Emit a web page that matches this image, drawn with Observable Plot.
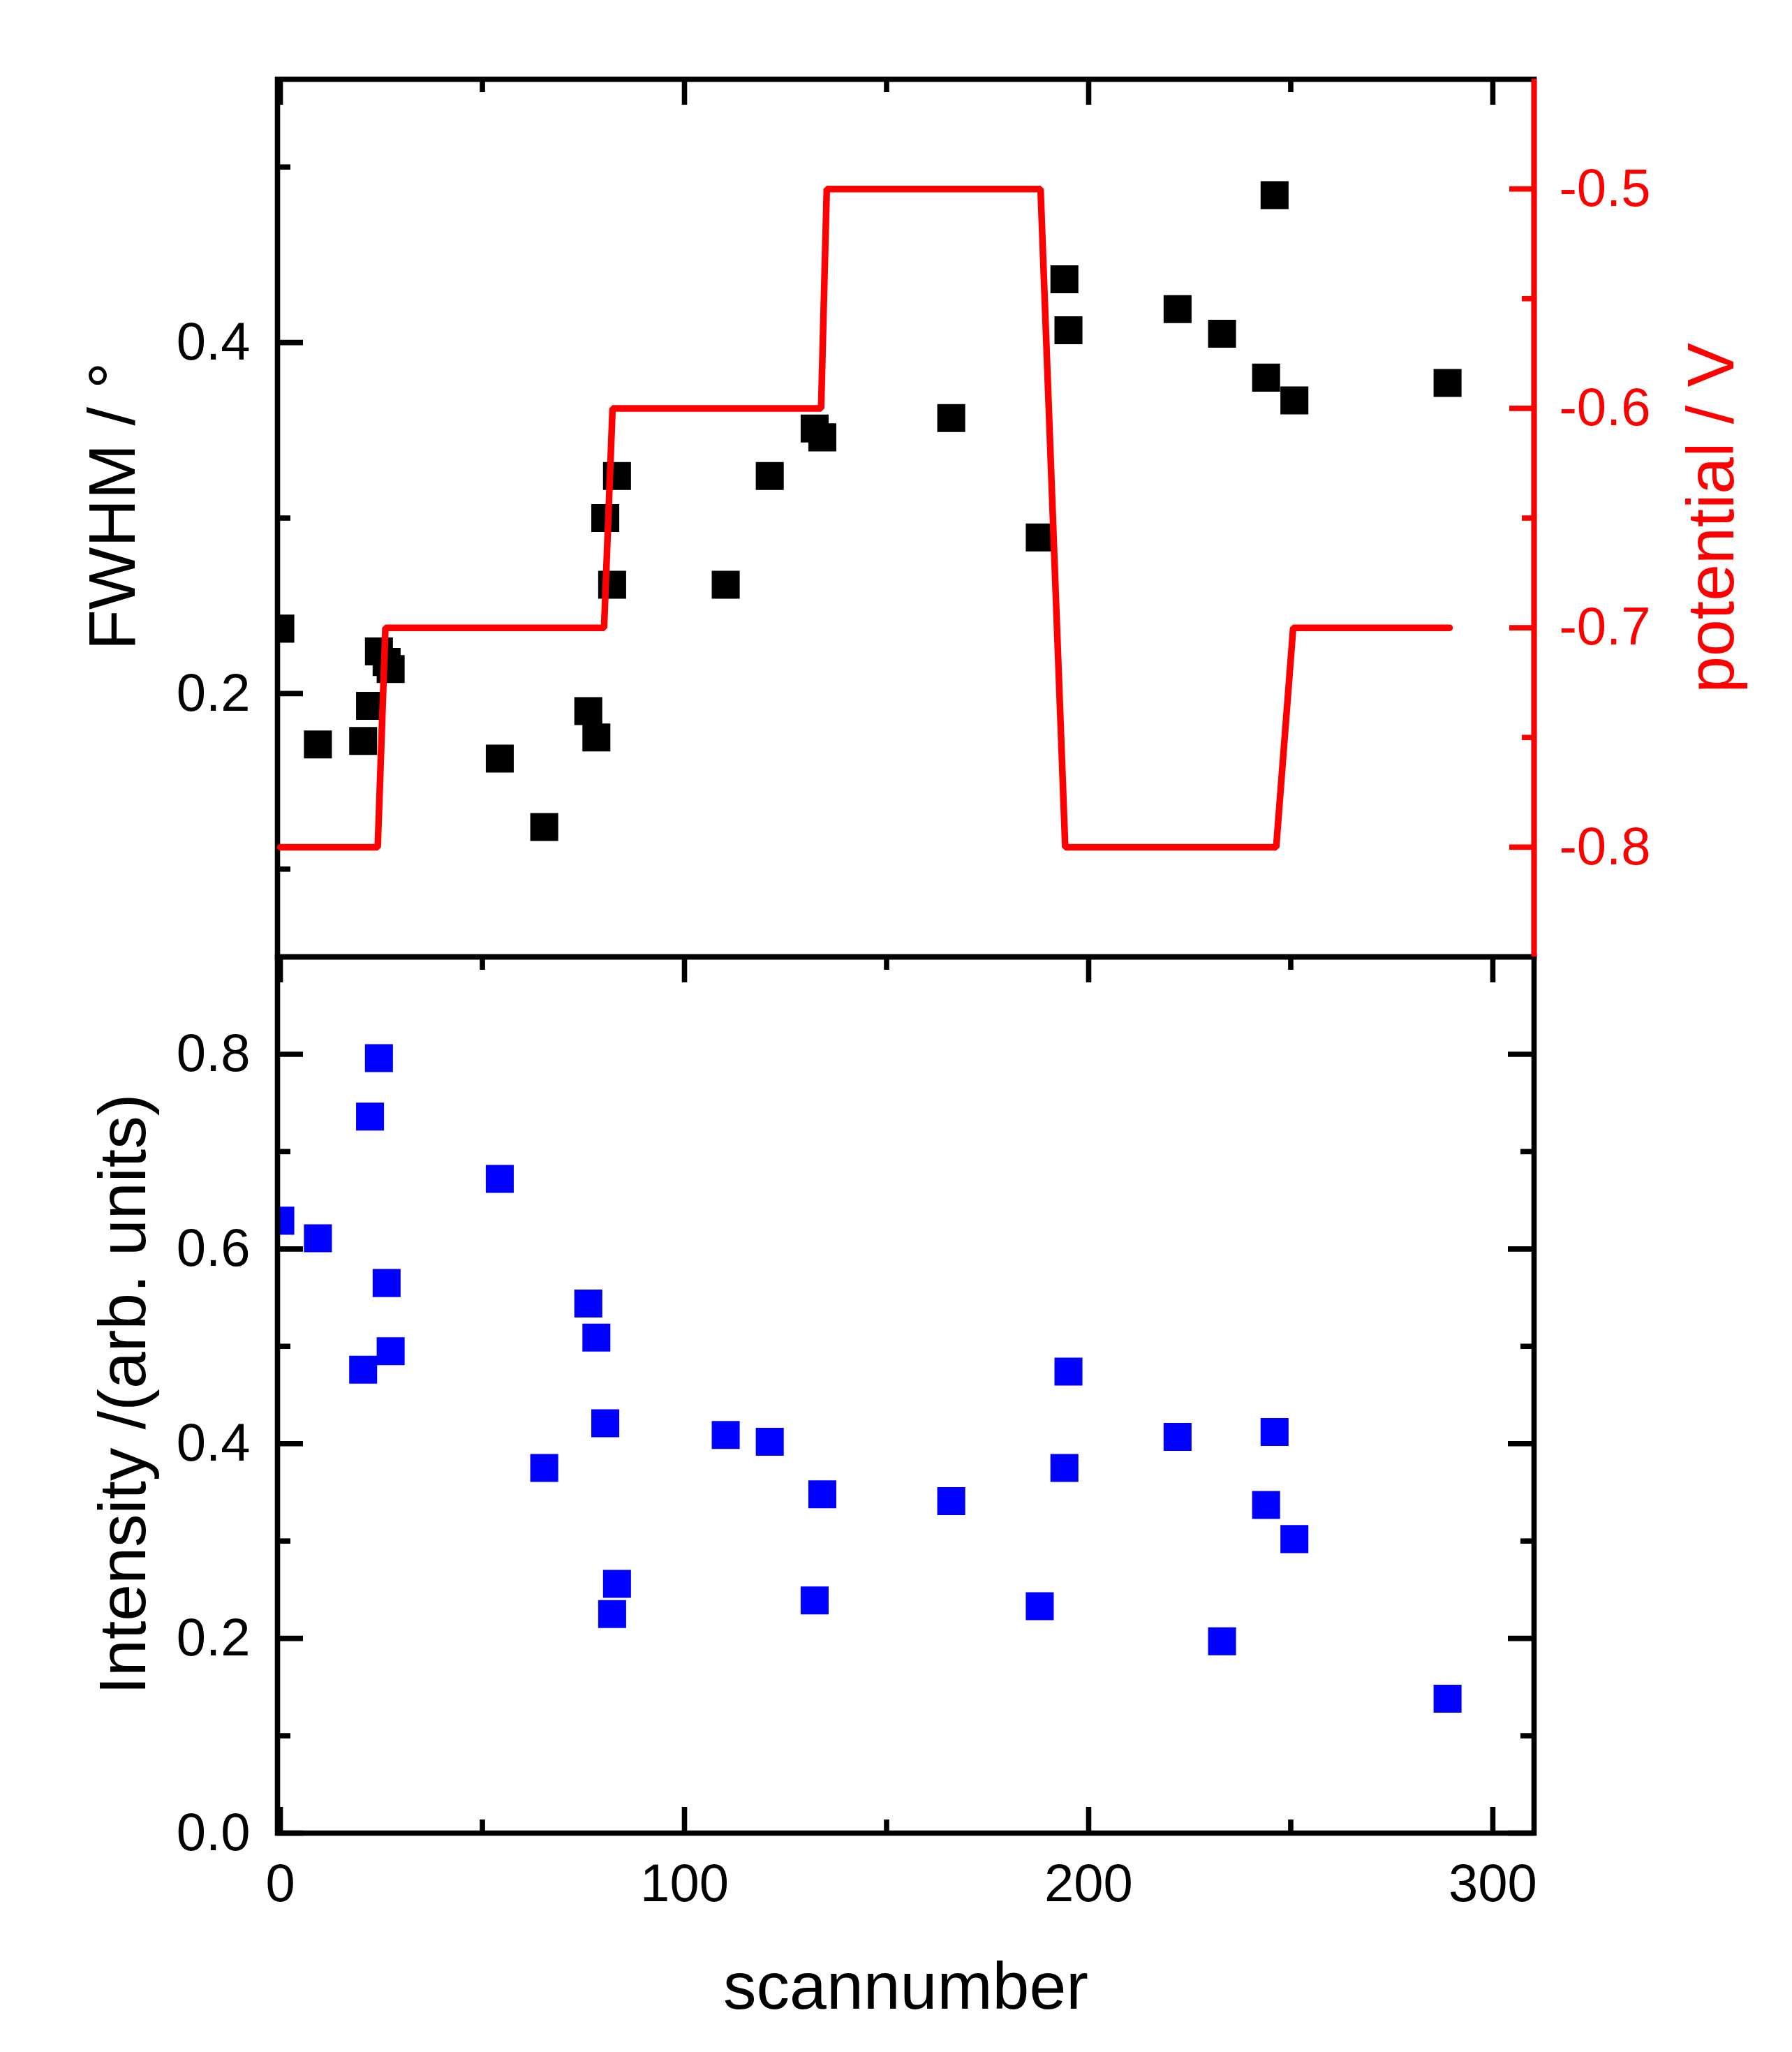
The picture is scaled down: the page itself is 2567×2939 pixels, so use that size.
<!DOCTYPE html>
<html><head><meta charset="utf-8">
<script src="https://cdn.jsdelivr.net/npm/d3@7"></script>
<script src="https://cdn.jsdelivr.net/npm/@observablehq/plot@0.6"></script>
<style>
html,body{margin:0;padding:0;background:#fff;overflow:hidden;}
#chart{position:relative;width:2567px;height:2939px;}
#chart svg{position:absolute;left:0;overflow:visible !important;background:transparent !important;max-width:none !important;}
</style></head><body><div id="chart"></div>
<script>
// ---- data ----
const scan = [0, 9.3, 20.5, 22.2, 24.4, 26.3, 27.3, 54.3, 65.3, 76.2, 78.2, 80.4, 82.1, 83.3, 110.2, 121.1, 132.2, 134.1, 166.0, 187.9, 194.0, 195.0, 222.0, 233.0, 243.9, 246.0, 250.9, 288.8];
const fwhm = [0.237, 0.171, 0.173, 0.193, 0.224, 0.218, 0.214, 0.163, 0.124, 0.190, 0.175, 0.300, 0.262, 0.324, 0.262, 0.324, 0.351, 0.346, 0.357, 0.289, 0.436, 0.407, 0.419, 0.405, 0.380, 0.484, 0.367, 0.377];
const intensity = [0.629, 0.611, 0.476, 0.736, 0.796, 0.565, 0.495, 0.672, 0.375, 0.544, 0.509, 0.421, 0.225, 0.256, 0.409, 0.402, 0.239, 0.348, 0.341, 0.233, 0.375, 0.474, 0.407, 0.197, 0.337, 0.412, 0.302, 0.138];
const potScan = [0, 24.1, 26.0, 80.1, 82.2, 133.8, 135.2, 188.1, 194.2, 246.4, 250.6, 289.3];
const potential = [-0.8, -0.8, -0.7, -0.7, -0.6, -0.6, -0.5, -0.5, -0.8, -0.8, -0.7, -0.7];

const xMajor = [0, 100, 200, 300];
const xMinor = [50, 150, 250];
const fwhmMajor = [0.2, 0.4];
const fwhmMinor = [0.1, 0.3, 0.5];
const potMajor = [-0.5, -0.6, -0.7, -0.8];
const potMinor = [-0.55, -0.65, -0.75];
const intMajor = [0.0, 0.2, 0.4, 0.6, 0.8];
const intMinor = [0.1, 0.3, 0.5, 0.7];

const xDomain = [-0.7, 310.2];
const fwhmDomain = [0.05, 0.55];
const potDomain = [-0.85, -0.45];
const intDomain = [0, 0.9];

// ---- layout ----
const W = 2567, ML = 397, MR = 370;
const TOP_H = 1370, TOP_MT = 113;
const BOT_H = 1569, BOT_MB = 314;
const TOP_FH = TOP_H - TOP_MT;
const BOT_FH = BOT_H - BOT_MB;
const FW = W - ML - MR;
const LW = 7.6, MAJ = 37, MIN = 19;
const FONT = "'Liberation Sans', Arial, Helvetica, sans-serif";
const TICKFS = 76, TITLEFS = 95;

const topRows = scan.map((s, i) => ({scan: s, fwhm: fwhm[i]}));
const botRows = scan.map((s, i) => ({scan: s, intensity: intensity[i]}));
const potRows = potScan.map((s, i) => ({scan: s, potential: potential[i]}));

const baseStyle = {fontFamily: FONT, background: "transparent", overflow: "visible"};

const topPlot = Plot.plot({
  width: W, height: TOP_H,
  marginTop: TOP_MT, marginBottom: 0, marginLeft: ML, marginRight: MR,
  style: baseStyle,
  x: {domain: xDomain, axis: null},
  y: {domain: fwhmDomain},
  marks: [
    Plot.dot(topRows, {x: "scan", y: "fwhm", symbol: "square", r: 22.6, fill: "#000", stroke: "none", clip: true}),
    Plot.frame({stroke: "#000", strokeWidth: LW}),
    Plot.tickX(xMajor, {x: d => d, insetBottom: TOP_FH - MAJ, stroke: "#000", strokeWidth: LW}),
    Plot.tickX(xMinor, {x: d => d, insetBottom: TOP_FH - MIN, stroke: "#000", strokeWidth: LW}),
    Plot.tickY(fwhmMajor, {y: d => d, insetRight: FW - MAJ, stroke: "#000", strokeWidth: LW}),
    Plot.tickY(fwhmMinor, {y: d => d, insetRight: FW - MIN, stroke: "#000", strokeWidth: LW}),
    Plot.axisY({anchor: "left", ticks: fwhmMajor, tickSize: 0, tickPadding: 39, fontSize: TICKFS, tickFormat: d => d.toFixed(1), label: null, fill: "#000"}),
    Plot.text(["FWHM / °"], {frameAnchor: "left", dx: 162 - ML, dy: -17, rotate: -90, fontSize: TITLEFS, textAnchor: "middle", lineAnchor: "middle", fill: "#000"})
  ]
});
topPlot.style.top = "0px";

const potPlot = Plot.plot({
  width: W, height: TOP_H,
  marginTop: TOP_MT, marginBottom: 0, marginLeft: ML, marginRight: MR,
  style: baseStyle,
  x: {domain: xDomain, axis: null},
  y: {domain: potDomain},
  marks: [
    Plot.line(potRows, {x: "scan", y: "potential", stroke: "#ff0000", strokeWidth: 9.5, strokeLinejoin: "miter"}),
    Plot.ruleX([xDomain[1]], {stroke: "#ff0000", strokeWidth: LW}),
    Plot.tickY(potMajor, {y: d => d, insetLeft: FW - 35, stroke: "#ff0000", strokeWidth: LW}),
    Plot.tickY(potMinor, {y: d => d, insetLeft: FW - 17, stroke: "#ff0000", strokeWidth: LW}),
    Plot.axisY({anchor: "right", ticks: potMajor, tickSize: 0, tickPadding: 36, fontSize: TICKFS, tickFormat: d => d.toFixed(1), label: null, fill: "#ff0000"}),
    Plot.text(["potential / V"], {frameAnchor: "right", dx: 2452 - (W - MR), dy: 0, rotate: -90, fontSize: TITLEFS, textAnchor: "middle", lineAnchor: "middle", fill: "#ff0000"})
  ]
});
potPlot.style.top = "0px";

const botPlot = Plot.plot({
  width: W, height: BOT_H,
  marginTop: 0, marginBottom: BOT_MB, marginLeft: ML, marginRight: MR,
  style: baseStyle,
  x: {domain: xDomain},
  y: {domain: intDomain},
  marks: [
    Plot.dot(botRows, {x: "scan", y: "intensity", symbol: "square", r: 22.6, fill: "#0000ff", stroke: "none", clip: true}),
    Plot.frame({stroke: "#000", strokeWidth: LW}),
    Plot.tickX(xMajor, {x: d => d, insetBottom: BOT_FH - MAJ, stroke: "#000", strokeWidth: LW}),
    Plot.tickX(xMinor, {x: d => d, insetBottom: BOT_FH - MIN, stroke: "#000", strokeWidth: LW}),
    Plot.tickX(xMajor, {x: d => d, insetTop: BOT_FH - MAJ, stroke: "#000", strokeWidth: LW}),
    Plot.tickX(xMinor, {x: d => d, insetTop: BOT_FH - MIN, stroke: "#000", strokeWidth: LW}),
    Plot.tickY(intMajor, {y: d => d, insetRight: FW - MAJ, stroke: "#000", strokeWidth: LW}),
    Plot.tickY(intMinor, {y: d => d, insetRight: FW - MIN, stroke: "#000", strokeWidth: LW}),
    Plot.tickY(intMajor, {y: d => d, insetLeft: FW - MAJ, stroke: "#000", strokeWidth: LW}),
    Plot.tickY(intMinor, {y: d => d, insetLeft: FW - MIN, stroke: "#000", strokeWidth: LW}),
    Plot.axisY({anchor: "left", ticks: intMajor, tickSize: 0, tickPadding: 39, fontSize: TICKFS, tickFormat: d => d.toFixed(1), label: null, fill: "#000"}),
    Plot.axisX({anchor: "bottom", ticks: xMajor, tickSize: 0, tickPadding: 44, fontSize: TICKFS, tickFormat: d => String(d), label: null, fill: "#000"}),
    Plot.text(["Intensity /(arb. units)"], {frameAnchor: "left", dx: 177 - ML, dy: -1, rotate: -90, fontSize: TITLEFS, textAnchor: "middle", lineAnchor: "middle", fill: "#000"}),
    Plot.text(["scannumber"], {frameAnchor: "bottom", dx: 0, dy: 221, fontSize: TITLEFS, textAnchor: "middle", lineAnchor: "middle", fill: "#000"})
  ]
});
botPlot.style.top = TOP_H + "px";

const chart = document.getElementById("chart");
chart.appendChild(topPlot);
chart.appendChild(botPlot);
chart.appendChild(potPlot);
</script>
</body></html>
